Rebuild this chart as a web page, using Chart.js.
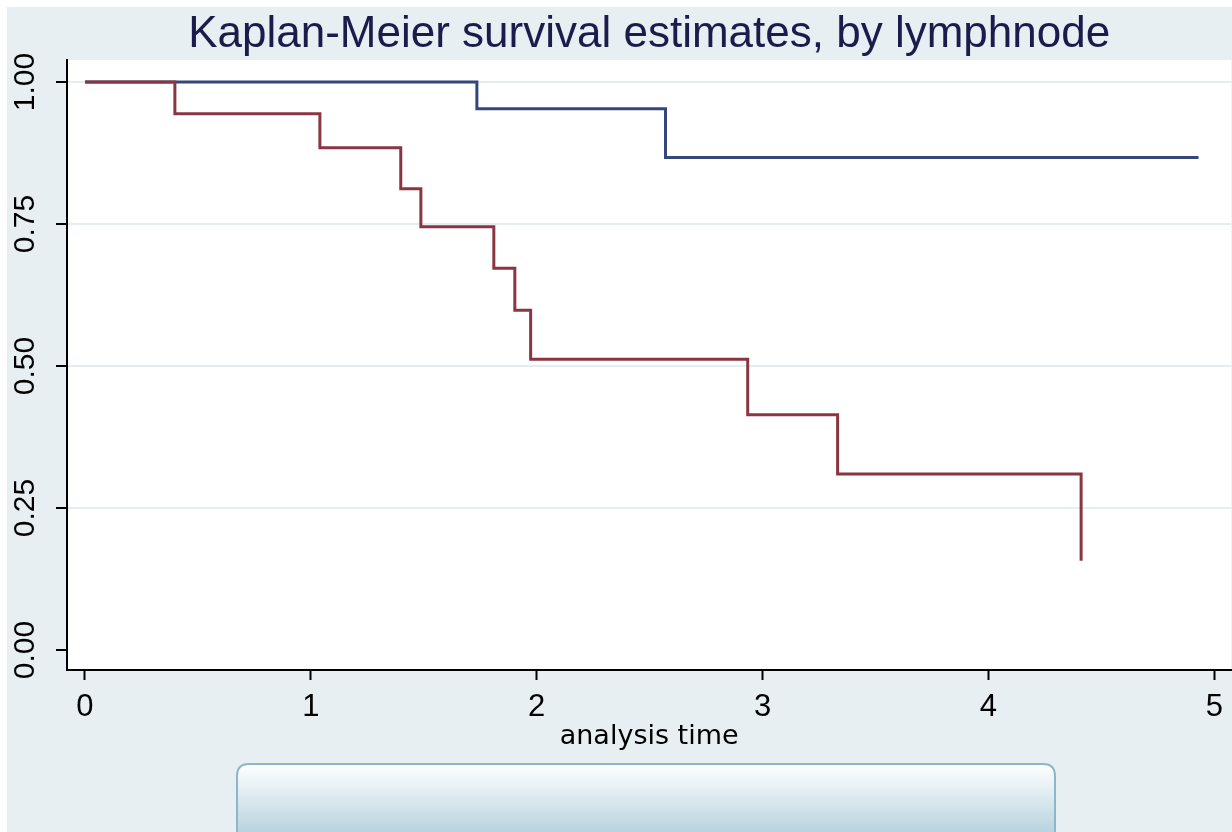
<!DOCTYPE html>
<html>
<head>
<meta charset="utf-8">
<script src="https://cdn.jsdelivr.net/npm/chart.js@4.4.1/dist/chart.umd.min.js"></script>
<style>
  html, body { margin: 0; padding: 0; background: #e8eff2; }
  #wrap { width: 1232px; height: 832px; }
</style>
</head>
<body>
<div id="wrap"><canvas id="c" width="1232" height="832"></canvas></div>
<script>
// ---- data ----
const titleText = 'Kaplan-Meier survival estimates, by lymphnode';
const xAxisTitle = 'analysis time';
const xTickValues = [0, 1, 2, 3, 4, 5];
const xTickLabels = ['0', '1', '2', '3', '4', '5'];
const yTickValues = [0, 0.25, 0.5, 0.75, 1];
const yTickLabels = ['0.00', '0.25', '0.50', '0.75', '1.00'];

// lymphnode = 0 (blue)
const timesNode0 = [0, 1.735, 2.57, 4.93];
const survNode0  = [1.0, 0.953, 0.867, 0.867];
// lymphnode = 1 (red)
const timesNode1 = [0, 0.398, 1.04, 1.398, 1.487, 1.81, 1.903, 1.973, 2.934, 3.332, 4.41];
const survNode1  = [1.0, 0.944, 0.884, 0.812, 0.745, 0.672, 0.598, 0.512, 0.414, 0.31, 0.157];

const toPts = (xs, ys) => xs.map((x, i) => ({ x: x, y: ys[i] }));

const FONT = "'Liberation Sans', Arial, sans-serif";
const FONT2 = "'DejaVu Sans', Verdana, sans-serif";

const bgPlugin = {
  id: 'bg',
  beforeDraw(chart) {
    const { ctx, chartArea: a } = chart;
    ctx.save();
    ctx.fillStyle = '#e8eff2';
    ctx.fillRect(0, 0, chart.width, chart.height);
    ctx.fillStyle = '#ffffff';
    ctx.fillRect(0, 0, chart.width, 7);
    ctx.fillRect(0, 0, 7, chart.height);
    ctx.fillRect(a.left, a.top, a.right - a.left, a.bottom - a.top);
    ctx.restore();
  },
  afterDraw(chart) {
    const { ctx } = chart;
    const ys = chart.scales.y;
    // rotated y tick labels
    ctx.save();
    ctx.fillStyle = '#000';
    ctx.font = '30px ' + FONT;
    ctx.textAlign = 'center';
    ctx.textBaseline = 'middle';
    yTickValues.forEach((v, i) => {
      ctx.save();
      ctx.translate(26, ys.getPixelForValue(v));
      ctx.rotate(-Math.PI / 2);
      ctx.fillText(yTickLabels[i], 0, 0);
      ctx.restore();
    });
    ctx.restore();
    // empty legend box
    const x0 = 237, y0 = 764, w = 818, h = 80, r = 12;
    ctx.save();
    const g = ctx.createLinearGradient(0, y0, 0, y0 + 68);
    g.addColorStop(0, '#ffffff');
    g.addColorStop(0.35, '#e6f0f4');
    g.addColorStop(1, '#b9d3df');
    ctx.beginPath();
    ctx.moveTo(x0 + r, y0);
    ctx.lineTo(x0 + w - r, y0);
    ctx.quadraticCurveTo(x0 + w, y0, x0 + w, y0 + r);
    ctx.lineTo(x0 + w, y0 + h);
    ctx.lineTo(x0, y0 + h);
    ctx.lineTo(x0, y0 + r);
    ctx.quadraticCurveTo(x0, y0, x0 + r, y0);
    ctx.closePath();
    ctx.fillStyle = g;
    ctx.fill();
    ctx.lineWidth = 2;
    ctx.strokeStyle = '#8db6ca';
    ctx.stroke();
    ctx.restore();
  }
};

new Chart(document.getElementById('c'), {
  type: 'line',
  data: {
    datasets: [
      {
        label: 'lymphnode = 0',
        data: toPts(timesNode0, survNode0),
        borderColor: '#34477a',
        borderWidth: 3,
        stepped: 'before',
        pointRadius: 0,
        fill: false,
        order: 1
      },
      {
        label: 'lymphnode = 1',
        data: toPts(timesNode1, survNode1),
        borderColor: '#8a3642',
        borderWidth: 3,
        stepped: 'before',
        pointRadius: 0,
        fill: false,
        order: 0
      }
    ]
  },
  options: {
    responsive: false,
    animation: false,
    layout: { padding: { left: 0, right: 0, top: 0, bottom: 0 } },
    plugins: {
      legend: { display: false },
      tooltip: { enabled: false },
      title: {
        display: true,
        text: titleText,
        fullSize: false,
        color: '#1c1c4c',
        font: { family: FONT, size: 44, weight: 'normal', lineHeight: 1.15 },
        padding: { top: 9.4, bottom: 0 }
      }
    },
    scales: {
      x: {
        type: 'linear',
        min: -0.0796,
        max: 5.075,
        afterBuildTicks(s) { s.ticks = xTickValues.map(v => ({ value: v })); },
        afterFit(s) { s.height = 162; },
        ticks: {
          color: '#000',
          font: { family: FONT, size: 31 },
          padding: 9,
          maxRotation: 0,
          autoSkip: false,
          callback: (v) => { const i = xTickValues.indexOf(v); return i >= 0 ? xTickLabels[i] : ''; }
        },
        grid: {
          drawOnChartArea: false,
          drawTicks: true,
          tickLength: 10,
          tickColor: '#000',
          tickWidth: 2
        },
        border: { display: true, color: '#000', width: 2 },
        title: {
          display: true,
          text: xAxisTitle,
          color: '#000',
          font: { family: FONT2, size: 27, lineHeight: 1.2 },
          padding: { top: 0, bottom: 79 }
        }
      },
      y: {
        type: 'linear',
        min: -0.0352,
        max: 1.0387,
        afterBuildTicks(s) { s.ticks = yTickValues.map(v => ({ value: v })); },
        afterFit(s) { s.width = 67; },
        ticks: { display: false },
        grid: {
          drawOnChartArea: true,
          drawTicks: true,
          tickLength: 11,
          lineWidth: 2,
          color: (c) => (c.tick && c.tick.value === 0) ? 'rgba(0,0,0,0)' : '#e4edf0',
          tickColor: '#000',
          tickWidth: 2
        },
        border: { display: true, color: '#000', width: 2 }
      }
    }
  },
  plugins: [bgPlugin]
});
</script>
</body>
</html>
